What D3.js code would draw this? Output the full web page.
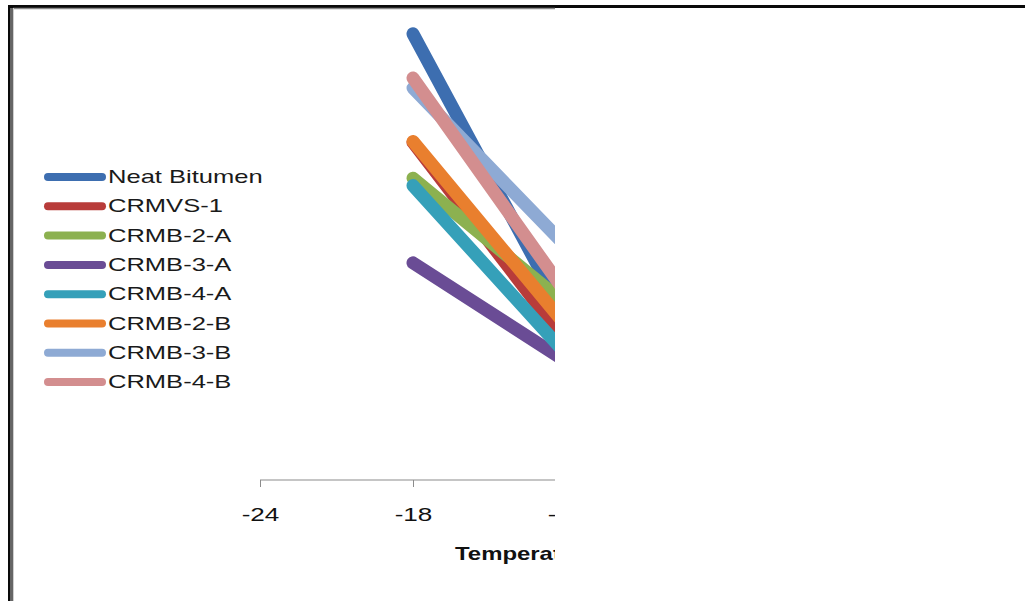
<!DOCTYPE html>
<html>
<head>
<meta charset="utf-8">
<script src="https://cdn.jsdelivr.net/npm/d3@7/dist/d3.min.js"></script>
<style>
  html, body { margin: 0; padding: 0; background: #fff; }
  svg { display: block; }
  text { font-family: "Liberation Sans", Arial, sans-serif; }
</style>
</head>
<body>
<svg id="chart" width="1025" height="601"></svg>
<script>
// Temperature steps on the x axis (°C)
const temps = [-18, -12];
const xTicks = [-24, -18, -12, -6];

// Series names and colours
const seriesNames = ["Neat Bitumen", "CRMVS-1", "CRMB-2-A", "CRMB-3-A", "CRMB-4-A", "CRMB-2-B", "CRMB-3-B", "CRMB-4-B"];
const seriesColors = ["#3d6eb0", "#b83c3a", "#8cb150", "#6a4c95", "#35a0b9", "#e97f2e", "#8eaad4", "#d38e8f"];

// Values at -18 °C and -12 °C
const neatBitumen = [485, 176];
const crmvs1      = [367, 150];
const crmb2A      = [328, 191];
const crmb3A      = [236, 129];
const crmb4A      = [320, 137];
const crmb2B      = [368, 168];
const crmb3B      = [426, 254];
const crmb4B      = [437, 203];

const seriesValues = [neatBitumen, crmvs1, crmb2A, crmb3A, crmb4A, crmb2B, crmb3B, crmb4B];

const svg = d3.select("#chart");

// Visible window of the chart
svg.append("defs").append("clipPath").attr("id", "win")
  .append("rect").attr("x", 0).attr("y", 9).attr("width", 555).attr("height", 592);

const x = d3.scaleLinear().domain([-24, -6]).range([260, 719]);
const y = d3.scaleLinear().domain([0, 500]).range([480, 20]);

const g = svg.append("g").attr("clip-path", "url(#win)");

// X axis (plain hyphen for negative numbers)
const axis = g.append("g").attr("transform", `translate(0,${y(0)})`)
  .call(d3.axisBottom(x).tickValues(xTicks).tickSize(7).tickPadding(21)
    .tickFormat(d => String(d)));
axis.select(".domain").attr("stroke", "#8c8c8c").attr("stroke-width", 1.2)
  .attr("d", `M${x(-24)},0H${x(-6)}`);
axis.selectAll(".tick line").attr("stroke", "#8c8c8c");
axis.selectAll(".tick text")
  .attr("fill", "#111")
  .style("font-size", "18px")
  .attr("transform", "scale(1.45,1)");

// Axis title
g.append("text")
  .attr("transform", "translate(455,560) scale(1.33,1)")
  .attr("font-weight", "bold")
  .style("font-size", "18px")
  .attr("fill", "#111")
  .text("Temperature (°C)");

// Series lines
const line = d3.line().x((d, i) => x(temps[i])).y(d => y(d));
seriesValues.forEach((vals, i) => {
  g.append("path")
    .datum(vals)
    .attr("d", line)
    .attr("fill", "none")
    .attr("stroke", seriesColors[i])
    .attr("stroke-width", 13)
    .attr("stroke-linecap", "round");
});

// Legend
const legend = svg.append("g");
seriesNames.forEach((name, i) => {
  const ly = 177 + i * 29.3;
  legend.append("line")
    .attr("x1", 48).attr("x2", 102).attr("y1", ly).attr("y2", ly)
    .attr("stroke", seriesColors[i]).attr("stroke-width", 8).attr("stroke-linecap", "round");
  legend.append("text")
    .attr("transform", `translate(108,${ly + 6}) scale(1.46,1)`)
    .style("font-size", "17.5px")
    .attr("fill", "#1a1a1a")
    .text(name);
});

// Frame
svg.append("line").attr("x1", 8).attr("x2", 1025).attr("y1", 6.5).attr("y2", 6.5)
  .attr("stroke", "#0a0a0a").attr("stroke-width", 3);
svg.append("line").attr("x1", 13).attr("x2", 555).attr("y1", 8.5).attr("y2", 8.5)
  .attr("stroke", "#8a8a8a").attr("stroke-width", 1.5);
svg.append("line").attr("x1", 9).attr("x2", 9).attr("y1", 5).attr("y2", 601)
  .attr("stroke", "#0a0a0a").attr("stroke-width", 2);
svg.append("line").attr("x1", 11.5).attr("x2", 11.5).attr("y1", 8).attr("y2", 601)
  .attr("stroke", "#666").attr("stroke-width", 3);
svg.append("line").attr("x1", 13.5).attr("x2", 13.5).attr("y1", 8).attr("y2", 601)
  .attr("stroke", "#cfcfcf").attr("stroke-width", 1);
</script>
</body>
</html>
